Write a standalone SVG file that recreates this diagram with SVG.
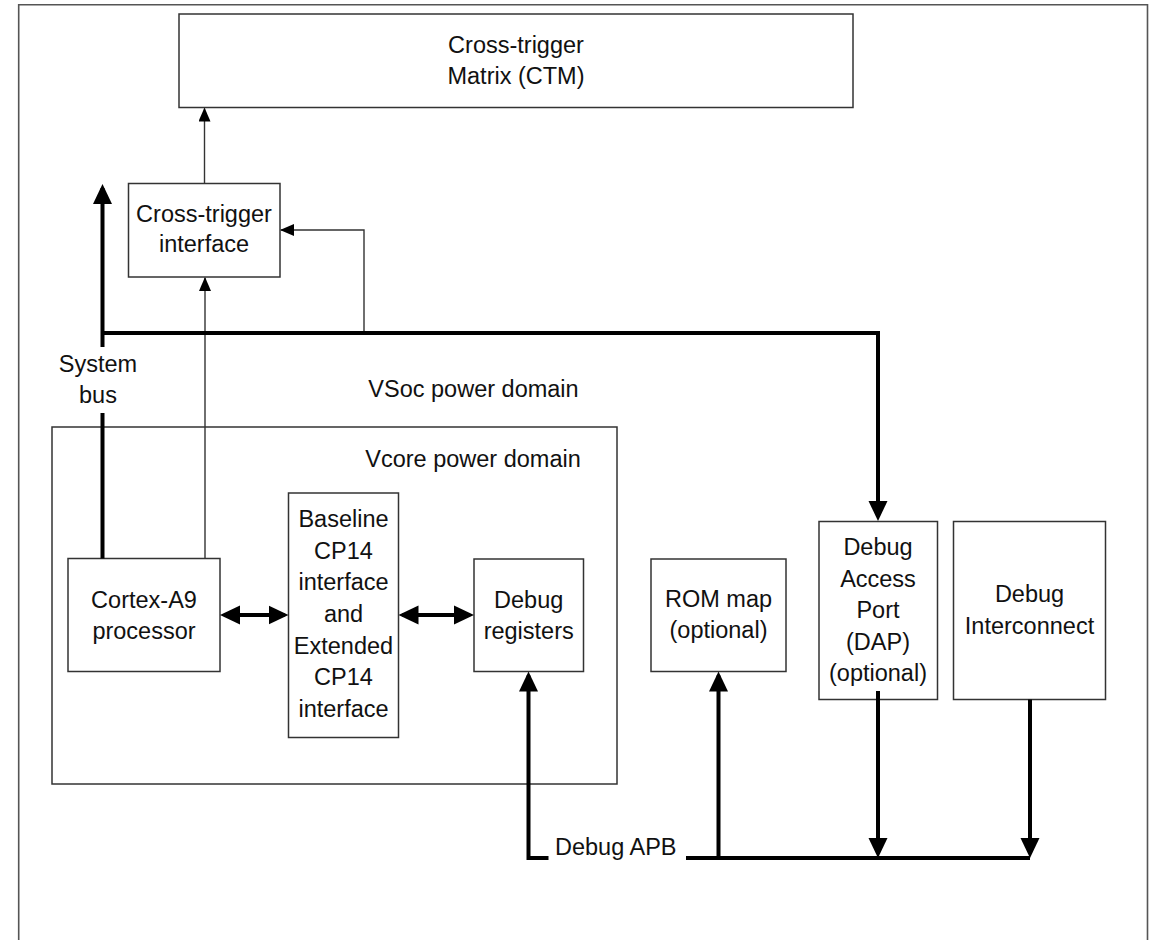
<svg xmlns="http://www.w3.org/2000/svg" width="1160" height="940" viewBox="0 0 1160 940">
<style>
.box{fill:#fff;stroke:#333;stroke-width:1.5}
.frame{fill:none;stroke:#555;stroke-width:1.6}
.t{font-family:"Liberation Sans",Arial,sans-serif;font-size:23.5px;fill:#111;text-anchor:middle}
.thin{fill:none;stroke:#333;stroke-width:1.4}
.thick{fill:none;stroke:#000;stroke-width:4}
</style>
<defs>
<marker id="ah" viewBox="0 0 20 20" markerWidth="20" markerHeight="20" refX="16" refY="10" orient="auto" markerUnits="userSpaceOnUse">
<path d="M0,0.5 L20,10 L0,19.5 Z" fill="#000"/>
</marker>
<marker id="ahs" viewBox="0 0 20 20" markerWidth="20" markerHeight="20" refX="16" refY="10" orient="auto-start-reverse" markerUnits="userSpaceOnUse">
<path d="M0,0.5 L20,10 L0,19.5 Z" fill="#000"/>
</marker>
<marker id="at" viewBox="0 0 14 12" markerWidth="14" markerHeight="12" refX="13" refY="6" orient="auto" markerUnits="userSpaceOnUse">
<path d="M0,0 L14,6 L0,12 Z" fill="#000"/>
</marker>
</defs>
<rect width="1160" height="940" fill="#fff"/>
<path class="frame" d="M18.7,950 V4.7 H1147.5 V950"/>
<g id="vsoc-label"><text class="t" x="473.5" y="396.5">VSoc power domain</text></g>
<g id="vcore-domain">
<rect class="box" x="52" y="427" width="565" height="357"/>
<text class="t" x="473" y="466.5">Vcore power domain</text>
</g>
<g id="ctm">
<rect class="box" x="179" y="14" width="674" height="93.5"/>
<text class="t" x="516" y="52.5">Cross-trigger</text>
<text class="t" x="516" y="83.5">Matrix (CTM)</text>
</g>
<g id="cti">
<rect class="box" x="128.5" y="183.5" width="151.5" height="93.5"/>
<text class="t" x="204" y="221.5">Cross-trigger</text>
<text class="t" x="204" y="252">interface</text>
</g>
<g id="cortex">
<rect class="box" x="68" y="558.5" width="152" height="113"/>
<text class="t" x="144" y="607.5">Cortex-A9</text>
<text class="t" x="144" y="638.5">processor</text>
</g>
<g id="cp14">
<rect class="box" x="288.5" y="493" width="110" height="244.5"/>
<text class="t" x="343.5" y="527">Baseline</text>
<text class="t" x="343.5" y="558.5">CP14</text>
<text class="t" x="343.5" y="590">interface</text>
<text class="t" x="343.5" y="621.5">and</text>
<text class="t" x="343.5" y="653.5">Extended</text>
<text class="t" x="343.5" y="685">CP14</text>
<text class="t" x="343.5" y="716.5">interface</text>
</g>
<g id="debug-registers">
<rect class="box" x="474" y="559" width="109.5" height="112.5"/>
<text class="t" x="528.7" y="607.5">Debug</text>
<text class="t" x="528.7" y="638.5">registers</text>
</g>
<g id="rom-map">
<rect class="box" x="651" y="559" width="135" height="112.5"/>
<text class="t" x="718.5" y="607">ROM map</text>
<text class="t" x="718.5" y="638">(optional)</text>
</g>
<g id="dap">
<rect class="box" x="819" y="521.5" width="118.5" height="178"/>
<text class="t" x="878" y="555">Debug</text>
<text class="t" x="878" y="586.5">Access</text>
<text class="t" x="878" y="618">Port</text>
<text class="t" x="878" y="649.5">(DAP)</text>
<text class="t" x="878" y="680.5">(optional)</text>
</g>
<g id="debug-interconnect">
<rect class="box" x="953.5" y="521.5" width="152" height="178"/>
<text class="t" x="1029.5" y="602">Debug</text>
<text class="t" x="1029.5" y="633.5">Interconnect</text>
</g>
<g id="labels">
<text class="t" x="98" y="372">System</text>
<text class="t" x="98" y="403">bus</text>
<text class="t" x="555" y="855" style="text-anchor:start">Debug APB</text>
</g>
<g id="connectors">
<path class="thin" d="M204.5,183.5 V108.5" marker-end="url(#at)"/>
<path class="thin" d="M205,558.5 V278" marker-end="url(#at)"/>
<path class="thin" d="M364,333 V230 H281" marker-end="url(#at)"/>
<path class="thick" d="M102.5,558.5 V413"/>
<path class="thick" d="M102.5,347 V188" marker-end="url(#ah)"/>
<path class="thick" d="M102.5,333 H878 V517" marker-end="url(#ah)"/>
<path class="thick" d="M224,615 H284.5" marker-start="url(#ahs)" marker-end="url(#ahs)"/>
<path class="thick" d="M402.5,615 H470" marker-start="url(#ahs)" marker-end="url(#ahs)"/>
<path class="thick" d="M548.5,858 H528.5 V675.5" marker-end="url(#ah)"/>
<path class="thick" d="M686,858 H1030"/>
<path class="thick" d="M718.5,858 V675.5" marker-end="url(#ah)"/>
<path class="thick" d="M878,691 V854" marker-end="url(#ah)"/>
<path class="thick" d="M1030,699.5 V854" marker-end="url(#ah)"/>
</g>
</svg>
